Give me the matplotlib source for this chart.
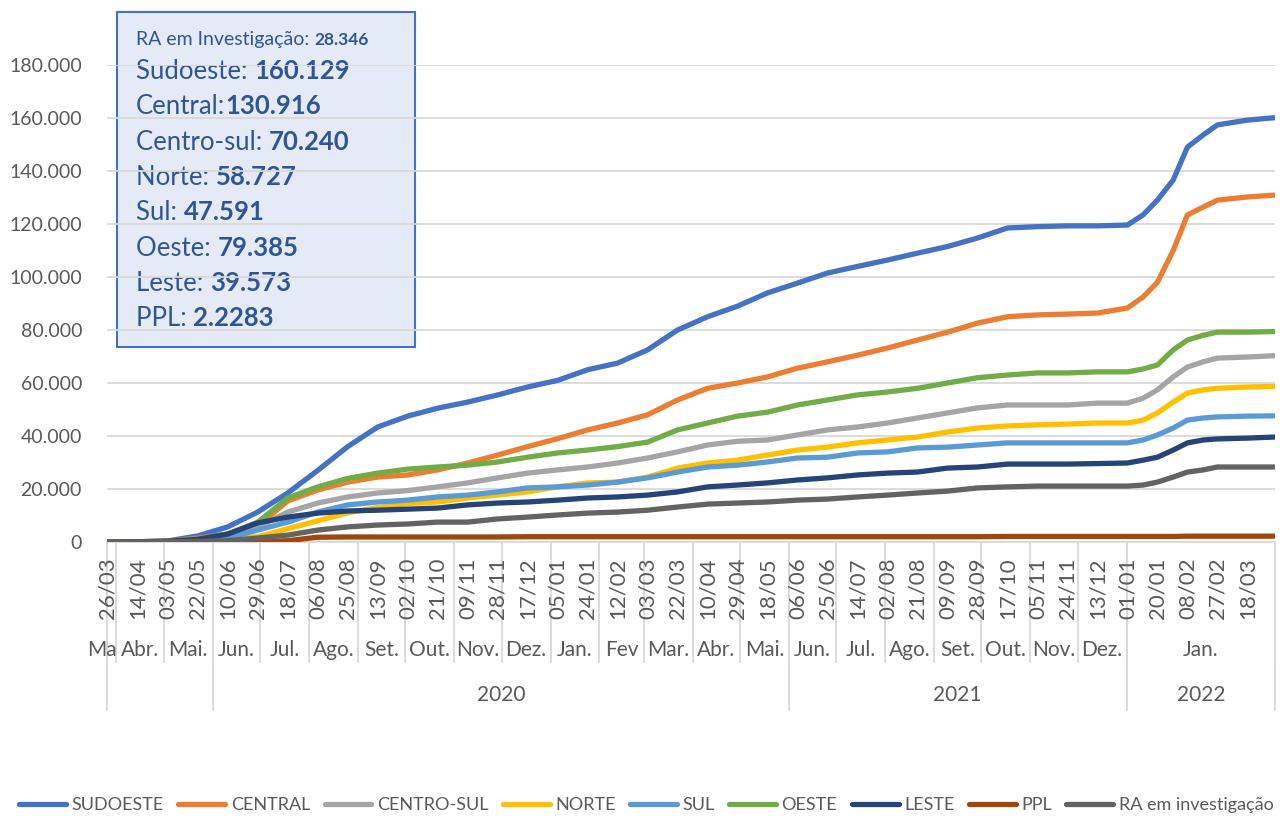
import matplotlib
matplotlib.use("Agg")
import matplotlib.pyplot as plt
import matplotlib.transforms as mtransforms
from matplotlib.patches import Rectangle
from matplotlib.lines import Line2D
import pandas as pd

plt.rcParams['font.family'] = ['Lato', 'DejaVu Sans']

# sample dates (every 19 days, plus extra points in the 2022 surge)
sample_dates = [
    "2020-03-26", "2020-04-14", "2020-05-03", "2020-05-22", "2020-06-10", "2020-06-29",
    "2020-07-18", "2020-08-06", "2020-08-25", "2020-09-13", "2020-10-02", "2020-10-21",
    "2020-11-09", "2020-11-28", "2020-12-17", "2021-01-05", "2021-01-24", "2021-02-12",
    "2021-03-03", "2021-03-22", "2021-04-10", "2021-04-29", "2021-05-18", "2021-06-06",
    "2021-06-25", "2021-07-14", "2021-08-02", "2021-08-21", "2021-09-09", "2021-09-28",
    "2021-10-17", "2021-11-05", "2021-11-24", "2021-12-13", "2022-01-01", "2022-01-11",
    "2022-01-20", "2022-01-30", "2022-02-08", "2022-02-18", "2022-02-27", "2022-03-18",
    "2022-04-04",
]

# cumulative cases, thousands
sudoeste = [0, 0.1, 0.4, 2.3, 5.7, 11.3, 18.5, 27, 36, 43.4, 47.5, 50.5, 52.8, 55.5, 58.5,
            61, 65, 67.5, 72.5, 80, 85, 89, 94, 97.7, 101.5, 104, 106.4, 109, 111.5, 114.7,
            118.5, 119, 119.3, 119.3, 119.6, 123.5, 129, 136.6, 149, 153.6, 157.4, 159.2, 160.1]
central = [0, 0.1, 0.3, 1.5, 3, 6, 15.5, 19.6, 22.6, 24.5, 25.3, 27.2, 29.8, 32.8, 36,
           39, 42.3, 44.9, 48, 53.6, 58, 60, 62.3, 65.6, 68, 70.5, 73.2, 76.2, 79.2, 82.6,
           85, 85.7, 86, 86.4, 88.3, 92.5, 98, 110, 123.4, 126.4, 129, 130.2, 130.9]
centro_sul = [0, 0, 0.2, 0.8, 1.5, 5.7, 11.3, 14.7, 17, 18.5, 19.4, 20.8, 22.3, 24.2, 26,
              27.2, 28.3, 29.8, 31.7, 34, 36.6, 38, 38.5, 40.4, 42.3, 43.4, 44.9, 46.8, 48.7, 50.6,
              51.7, 51.7, 51.7, 52.4, 52.4, 54.3, 57.4, 62.3, 66, 68, 69.4, 69.8, 70.3]
norte = [0, 0, 0.1, 0.5, 1, 2, 5, 8, 11, 13, 14.5, 15.1, 16.6, 17.7, 18.9,
         20.8, 22.3, 22.6, 24.5, 27.9, 29.8, 30.9, 32.8, 34.7, 35.8, 37.4, 38.5, 39.6, 41.5, 43,
         43.8, 44.2, 44.5, 44.9, 44.9, 46, 48.7, 52.8, 56.2, 57.4, 58, 58.5, 58.7]
sul = [0, 0, 0.1, 0.5, 1.5, 4.5, 7.5, 11.3, 14, 15.1, 15.8, 17, 17.7, 18.9, 20.4,
       20.8, 21.5, 22.6, 24.2, 26.4, 28.3, 29, 30.2, 31.7, 32, 33.6, 34, 35.5, 35.8, 36.6,
       37.4, 37.4, 37.4, 37.4, 37.4, 38.5, 40.4, 43, 46, 46.8, 47.2, 47.5, 47.6]
oeste = [0, 0, 0.2, 1, 3, 7.5, 16.6, 20.8, 24, 26, 27.5, 28.3, 29, 30.2, 32,
         33.6, 34.7, 36, 37.7, 42.3, 44.9, 47.5, 49, 51.7, 53.6, 55.5, 56.6, 58, 60, 62,
         63, 63.8, 63.8, 64.2, 64.2, 65.3, 66.8, 72.5, 76.2, 78, 79.2, 79.2, 79.4]
leste = [0, 0.1, 0.3, 1, 3, 7.2, 9.4, 10.9, 11.7, 12, 12.4, 12.8, 14, 14.7, 15.1,
         15.8, 16.6, 17, 17.7, 18.9, 20.8, 21.5, 22.3, 23.4, 24.2, 25.3, 26, 26.4, 27.9, 28.3,
         29.4, 29.4, 29.4, 29.6, 29.8, 30.9, 32, 34.7, 37.4, 38.5, 38.9, 39.2, 39.6]
ppl = [0, 0, 0, 0, 0, 0, 0.5, 1.8, 1.9, 1.9, 1.9, 1.9, 1.9, 1.9, 2,
       2, 2, 2, 2, 2, 2, 2, 2, 2, 2, 2, 2, 2, 2, 2,
       2.1, 2.1, 2.1, 2.1, 2.1, 2.1, 2.1, 2.1, 2.2, 2.2, 2.2, 2.2, 2.2]
ra_invest = [0, 0, 0, 0.2, 0.5, 1.5, 2.6, 4.5, 5.7, 6.4, 6.8, 7.5, 7.5, 8.7, 9.4,
             10.2, 10.9, 11.3, 12, 13.2, 14.3, 14.7, 15.1, 15.8, 16.2, 17, 17.7, 18.5, 19.2, 20.4,
             20.8, 21.1, 21.1, 21.1, 21.1, 21.5, 22.6, 24.5, 26.4, 27.2, 28.3, 28.3, 28.3]

series_names = ["SUDOESTE", "CENTRAL", "CENTRO-SUL", "NORTE", "SUL", "OESTE", "LESTE",
                "PPL", "RA em investigação"]
series_values = [sudoeste, central, centro_sul, norte, sul, oeste, leste, ppl, ra_invest]
series_colors = ["#4472C4", "#ED7D31", "#A5A5A5", "#FFC000", "#5B9BD5", "#70AD47",
                 "#264478", "#9E480E", "#636363"]

month_labels = ["Ma", "Abr.", "Mai.", "Jun.", "Jul.", "Ago.", "Set.", "Out.", "Nov.", "Dez.",
                "Jan.", "Fev", "Mar.", "Abr.", "Mai.", "Jun.", "Jul.", "Ago.", "Set.", "Out.",
                "Nov.", "Dez.", "Jan."]
year_labels = ["", "2020", "2021", "2022"]
year_starts = ["2020-06-01", "2021-06-01", "2022-01-01"]

box_labels = ["Sudoeste: ", "Central:", "Centro-sul: ", "Norte: ", "Sul: ", "Oeste: ",
              "Leste: ", "PPL: "]
box_values = ["160.129", "130.916", "70.240", "58.727", "47.591", "79.385", "39.573", "2.2283"]

start = pd.Timestamp("2020-03-26")
end = pd.Timestamp("2022-04-04")
n_days = (end - start).days
x = [(pd.Timestamp(d) - start).days for d in sample_dates]

fig = plt.figure(figsize=(12.8, 8.26), dpi=100)
ax = fig.add_axes([107 / 1280, 1 - 542 / 826, 1168 / 1280, 477 / 826])
ax.patch.set_visible(False)

for name, vals, col in zip(series_names, series_values, series_colors):
    ax.plot(x, [v * 1000 for v in vals], color=col, lw=3.8, label=name,
            solid_capstyle='round', solid_joinstyle='round', zorder=3)

ax.set_xlim(-0.5, n_days + 0.5)
ax.set_ylim(0, 180000)
yt = range(0, 180001, 20000)
ax.set_yticks(list(yt))
ax.set_yticklabels([f"{v:,}".replace(",", ".") for v in yt])
ax.yaxis.grid(True, color="#D9D9D9", lw=1.3, zorder=1)
ax.set_axisbelow(False)
for s in ["top", "right", "left"]:
    ax.spines[s].set_visible(False)
ax.spines["bottom"].set_color("#D9D9D9")
ax.spines["bottom"].set_linewidth(1.3)
ax.tick_params(axis="y", length=0, pad=18, labelsize=14, labelcolor="#595959")

# date tick labels every 19 days
tick_days = list(range(0, n_days, 19))
ax.set_xticks(tick_days)
ax.set_xticklabels([(start + pd.Timedelta(days=d)).strftime("%d/%m") for d in tick_days],
                   rotation=90)
ax.tick_params(axis="x", length=0, pad=11, labelsize=16, labelcolor="#595959")

# month and year groupings below the dates
trans = mtransforms.blended_transform_factory(ax.transData, ax.transAxes)
month_edges = [-0.5]
for m in pd.date_range("2020-04-01", "2022-01-01", freq="MS"):
    month_edges.append((m - start).days - 0.5)
month_edges.append(n_days + 0.5)
year_edges = [-0.5] + [(pd.Timestamp(d) - start).days - 0.5 for d in year_starts] + [n_days + 0.5]

for e in month_edges:
    ax.add_line(Line2D([e, e], [0, -0.252], transform=trans, color="#D9D9D9",
                       lw=1.3, clip_on=False))
for e in year_edges:
    ax.add_line(Line2D([e, e], [0, -0.352], transform=trans, color="#D9D9D9",
                       lw=1.3, clip_on=False))
for i, (lab, a, b) in enumerate(zip(month_labels, month_edges[:-1], month_edges[1:])):
    if i == 0:
        # the first month is too narrow for its label; it spills to the left
        ax.text(b, -0.226, lab, transform=trans, ha="right", va="center",
                fontsize=15, color="#595959")
        continue
    ax.text((a + b) / 2, -0.226, lab, transform=trans, ha="center", va="center",
            fontsize=15, color="#595959")
for lab, a, b in zip(year_labels, year_edges[:-1], year_edges[1:]):
    ax.text((a + b) / 2, -0.321, lab, transform=trans, ha="center", va="center",
            fontsize=15, color="#595959")

# info box (drawn below the gridlines, like the original)
fig.patches.append(Rectangle((117 / 1280, 1 - 347 / 826), 298 / 1280, 335 / 826,
                             transform=fig.transFigure, facecolor="#E5EBF6",
                             edgecolor="#4472C4", lw=1.5, zorder=-1))
txt_col = "#2F5597"
renderer = fig.canvas.get_renderer()


def two_part(y_px, regular, bold, size_r, size_b):
    t = fig.text(136 / 1280, 1 - y_px / 826, regular, fontsize=size_r, color=txt_col,
                 va="baseline", zorder=-0.5)
    w = t.get_window_extent(renderer=renderer).width
    fig.text((136 + w) / 1280, 1 - y_px / 826, bold, fontsize=size_b, color=txt_col,
             fontweight="bold", va="baseline", zorder=-0.5)


two_part(45, "RA em Investigação: ", "28.346", 14, 12.5)
for i, (lab, val) in enumerate(zip(box_labels, box_values)):
    two_part(79 + i * 35.3, lab, val, 18.5, 18.5)

fig.legend(loc="lower center", bbox_to_anchor=(0.505, -0.004), ncol=9, frameon=False,
           fontsize=13, handlelength=2.6, handletextpad=0.3, columnspacing=0.8,
           labelcolor="#595959")

fig.savefig("out.png", dpi=100)
